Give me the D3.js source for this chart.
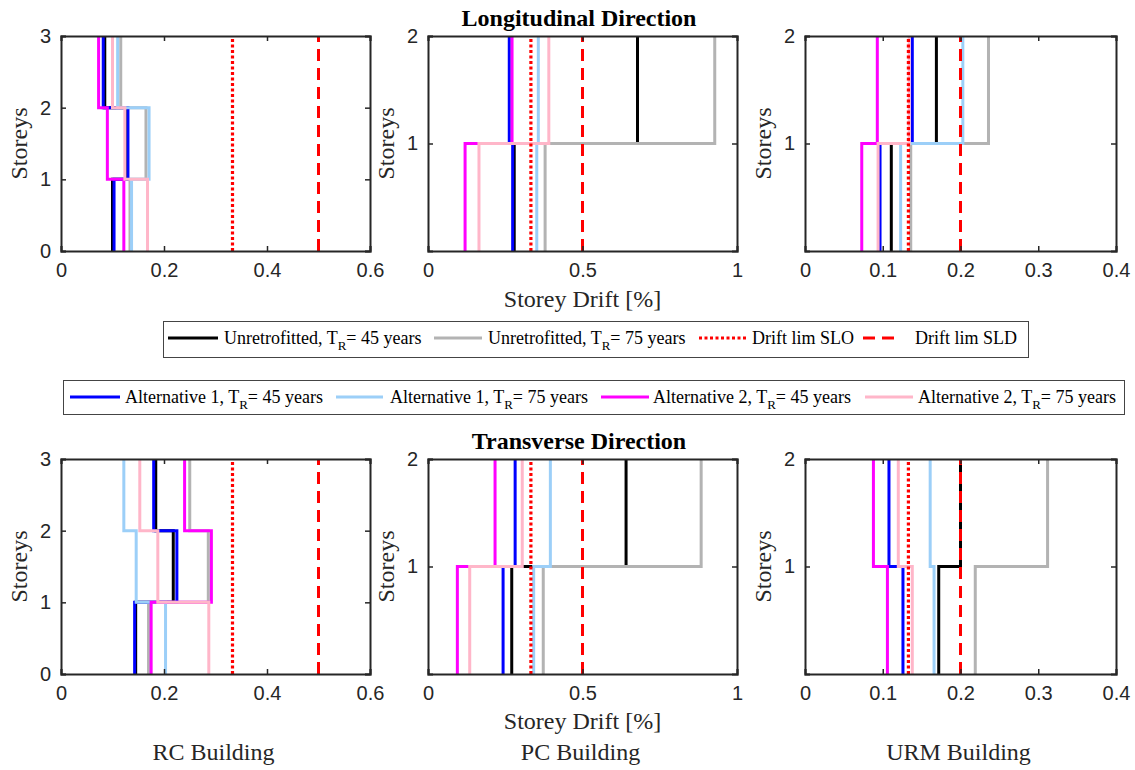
<!DOCTYPE html>
<html><head><meta charset="utf-8">
<script src="https://cdn.jsdelivr.net/npm/d3@7"></script>
<style>body{margin:0;background:#fff}</style>
</head><body>
<svg id="c" width="1135" height="770"></svg>
<script>
// ---- data ----
const seriesNames = ["Unretrofitted", "Unretrofitted", "Alternative 1", "Alternative 1", "Alternative 2", "Alternative 2"];
const seriesTR = ["45", "75", "45", "75", "45", "75"];
const seriesColors = ["#000000", "#b3b3b3", "#0000ff", "#9ccff8", "#ff00ff", "#ffb6c9"];
const buildings = ["RC Building", "PC Building", "URM Building"];
const storeyCounts = [3, 2, 2];
const xMax = [0.6, 1, 0.4];
const xTicksRC = [0, 0.2, 0.4, 0.6];
const xTicksPC = [0, 0.5, 1];
const xTicksURM = [0, 0.1, 0.2, 0.3, 0.4];
const yTicks3 = [0, 1, 2, 3];
const yTicks2 = [1, 2];
const driftSLO = [0.333, 0.333, 0.133];
const driftSLD = [0.5, 0.5, 0.2];
// drift per storey (storey 1 first), series order as above
const longRC = [[0.100, 0.128, 0.085], [0.134, 0.165, 0.116], [0.103, 0.130, 0.082], [0.137, 0.171, 0.110], [0.122, 0.090, 0.073], [0.168, 0.124, 0.100]];
const longPC = [[0.279, 0.678], [0.379, 0.928], [0.274, 0.263], [0.352, 0.357], [0.120, 0.272], [0.165, 0.391]];
const longURM = [[0.111, 0.169], [0.136, 0.236], [0.0965, 0.138], [0.123, 0.203], [0.073, 0.093], [0.094, 0.134]];
const transRC = [[0.145, 0.218, 0.184], [0.170, 0.286, 0.250], [0.143, 0.225, 0.180], [0.203, 0.146, 0.122], [0.175, 0.292, 0.240], [0.287, 0.188, 0.153]];
const transPC = [[0.271, 0.641], [0.373, 0.884], [0.243, 0.282], [0.342, 0.396], [0.095, 0.217], [0.135, 0.305]];
const transURM = [[0.172, 0.200], [0.219, 0.312], [0.126, 0.108], [0.166, 0.161], [0.106, 0.088], [0.138, 0.120]];

// ---- layout ----
const svg = d3.select("#c");
const colX = [[61, 370], [428, 737], [805, 1116]];
const rowY = [[36, 251], [459, 674]];
const panelData = [[longRC, longPC, longURM], [transRC, transPC, transURM]];
const xTickSets = [xTicksRC, xTicksPC, xTicksURM];
const serif = "'Liberation Serif','Times New Roman',serif";
const sans = "'Liberation Sans',Arial,sans-serif";
const axisCol = "#262626";

function drawPanel(r, c) {
  const n = storeyCounts[c];
  const x = d3.scaleLinear().domain([0, xMax[c]]).range(colX[c]);
  const y = d3.scaleLinear().domain([0, n]).range([rowY[r][1], rowY[r][0]]);
  const g = svg.append("g");
  const data = panelData[r][c];
  const line = d3.line().x(d => x(d[0])).y(d => y(d[1]));
  data.forEach((vals, i) => {
    const pts = [];
    vals.forEach((v, k) => { pts.push([v, k]); pts.push([v, k + 1]); });
    g.append("path").attr("d", line(pts)).attr("fill", "none")
      .attr("stroke", seriesColors[i]).attr("stroke-width", 3);
  });
  g.append("path").attr("d", line([[driftSLO[c], 0], [driftSLO[c], n]]))
    .attr("stroke", "#ff0000").attr("stroke-width", 3.2).attr("stroke-dasharray", "3,2.5");
  g.append("path").attr("d", line([[driftSLD[c], 0], [driftSLD[c], n]]))
    .attr("stroke", "#ff0000").attr("stroke-width", 3).attr("stroke-dasharray", "12,7");
  const fmt = d3.format("~g");
  const yt = n === 3 ? yTicks3 : yTicks2;
  const xb = g.append("g").attr("transform", `translate(0,${y(0)})`)
    .call(d3.axisBottom(x).tickValues(xTickSets[c]).tickSize(-5).tickPadding(12).tickFormat(fmt));
  const xt = g.append("g").attr("transform", `translate(0,${y(n)})`)
    .call(d3.axisTop(x).tickValues(xTickSets[c]).tickSize(-5).tickFormat(""));
  const yl = g.append("g").attr("transform", `translate(${x(0)},0)`)
    .call(d3.axisLeft(y).tickValues(yt).tickSize(-5).tickPadding(10).tickFormat(fmt));
  const yr = g.append("g").attr("transform", `translate(${x(xMax[c])},0)`)
    .call(d3.axisRight(y).tickValues(yt).tickSize(-5).tickFormat(""));
  [xb, xt, yl, yr].forEach(a => {
    a.select(".domain").attr("stroke", axisCol).attr("stroke-width", 2);
    a.selectAll(".tick line").attr("stroke", axisCol).attr("stroke-width", 1.5);
    a.selectAll("text").attr("font-family", sans).attr("font-size", 20).attr("fill", axisCol);
  });
  const yc = (rowY[r][0] + rowY[r][1]) / 2;
  const lx = colX[c][0] - 34;
  g.append("text").attr("transform", `translate(${lx},${yc}) rotate(-90)`)
    .attr("text-anchor", "middle").attr("font-family", serif).attr("font-size", 24)
    .attr("fill", axisCol).text("Storeys");
}
for (let r = 0; r < 2; r++) for (let c = 0; c < 3; c++) drawPanel(r, c);

const midX = (colX[1][0] + colX[1][1]) / 2;
svg.append("text").attr("x", 579).attr("y", 26).attr("text-anchor", "middle")
  .attr("font-family", serif).attr("font-weight", "bold").attr("font-size", 24).text("Longitudinal Direction");
svg.append("text").attr("x", 579).attr("y", 449).attr("text-anchor", "middle")
  .attr("font-family", serif).attr("font-weight", "bold").attr("font-size", 24).text("Transverse Direction");
svg.append("text").attr("x", midX).attr("y", 307).attr("text-anchor", "middle")
  .attr("font-family", serif).attr("font-size", 24).attr("fill", axisCol).text("Storey Drift [%]");
svg.append("text").attr("x", midX).attr("y", 729).attr("text-anchor", "middle")
  .attr("font-family", serif).attr("font-size", 24).attr("fill", axisCol).text("Storey Drift [%]");
buildings.forEach((b, c) => {
  svg.append("text").attr("x", (colX[c][0] + colX[c][1]) / 2 - 2).attr("y", 760).attr("text-anchor", "middle")
    .attr("font-family", serif).attr("font-size", 24).attr("fill", axisCol).text(b);
});

function legendEntry(g, x1, x2, tx, yy, color, dash, label, tr) {
  g.append("line").attr("x1", x1).attr("x2", x2).attr("y1", yy).attr("y2", yy)
    .attr("stroke", color).attr("stroke-width", 3).attr("stroke-dasharray", dash);
  const t = g.append("text").attr("x", tx).attr("y", yy + 6).attr("font-family", serif)
    .attr("font-size", 18).attr("fill", "#000");
  if (tr) {
    t.append("tspan").text(label + ", T");
    t.append("tspan").attr("dy", 6).attr("font-size", 13).text("R");
    t.append("tspan").attr("dy", -6).text("= " + tr + " years");
  } else t.text(label);
}
const lg1 = svg.append("g");
lg1.append("rect").attr("x", 163.5).attr("y", 321.5).attr("width", 865).attr("height", 36)
  .attr("fill", "#fff").attr("stroke", "#444").attr("stroke-width", 1);
legendEntry(lg1, 168, 218, 224, 338, seriesColors[0], null, seriesNames[0], seriesTR[0]);
legendEntry(lg1, 434, 482, 488, 338, seriesColors[1], null, seriesNames[1], seriesTR[1]);
legendEntry(lg1, 699, 746, 752, 338, "#ff0000", "3,2.5", "Drift lim SLO", null);
legendEntry(lg1, 863, 899, 915, 338, "#ff0000", "12,7", "Drift lim SLD", null);
const lg2 = svg.append("g");
lg2.append("rect").attr("x", 63.5).attr("y", 380.5).attr("width", 1061).attr("height", 34)
  .attr("fill", "#fff").attr("stroke", "#444").attr("stroke-width", 1);
const l2x = [[70, 120, 125], [336, 383, 390], [601, 649, 653], [865, 913, 918]];
l2x.forEach((p, i) => legendEntry(lg2, p[0], p[1], p[2], 397, seriesColors[i + 2], null, seriesNames[i + 2], seriesTR[i + 2]));
</script>
</body></html>
